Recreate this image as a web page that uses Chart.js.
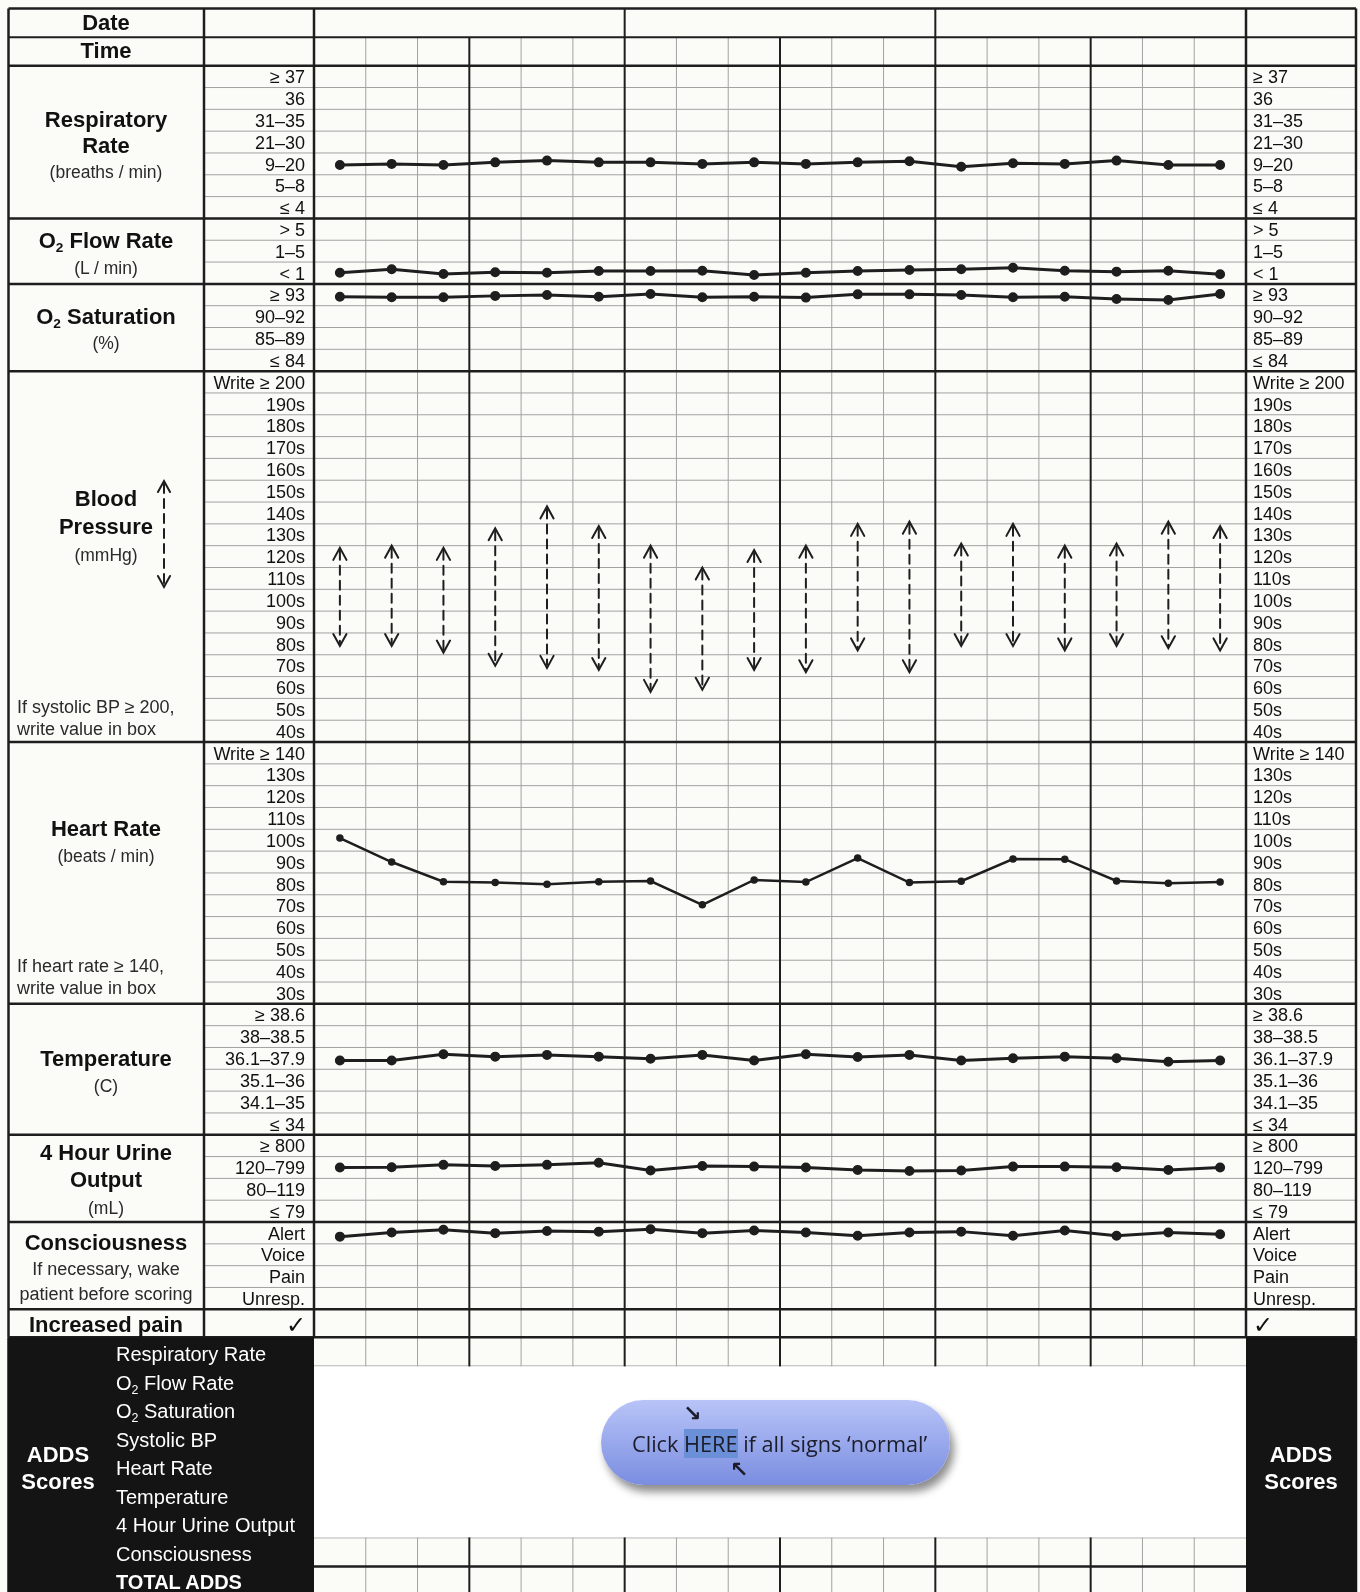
<!DOCTYPE html>
<html>
<head>
<meta charset="utf-8">
<title>ADDS observation chart</title>
<script src="https://cdn.jsdelivr.net/npm/chart.js@4.4.1/dist/chart.umd.min.js"></script>
<style>
html, body { margin: 0; padding: 0; background: #fbfbf8; }
body { width: 1360px; height: 1592px; position: relative; overflow: hidden;
       font-family: 'Liberation Sans', Arial, Helvetica, sans-serif; color: #111; }
#chart { position: absolute; left: 0; top: 0; }
.t { position: absolute; white-space: nowrap; transform: translate(-50%, -50%); line-height: 1; }
.l { transform: translate(0, -50%); }
.r { transform: translate(-100%, -50%); }
.b { font-weight: bold; font-size: 22px; }
.s { font-size: 17.5px; color: #2a2a2a; }
.n { font-size: 18px; color: #2a2a2a; }
.w { color: #fff; font-size: 20px; }
.tick { font-size: 24px; font-family: 'DejaVu Sans', sans-serif; }
sub { font-size: 62%; vertical-align: baseline; position: relative; top: 0.3em; }
.pill { position: absolute; left: 601px; top: 1400px; width: 349px; height: 85px; border-radius: 43px;
        background: linear-gradient(#b8c4f8, #7a8de0); box-shadow: 4px 7px 9px rgba(0,0,0,0.45); }
.cta { position: absolute; left: 632px; top: 1444px; transform: translate(0, -50%); white-space: nowrap;
       font-family: 'Open Sans', 'Noto Sans', sans-serif; font-size: 21.7px; color: #1c1c2a; line-height: 1.2; }
.here { background: #6b90d8; }
.arr { position: absolute; font-family: 'DejaVu Sans', sans-serif; font-size: 22px; font-weight: bold; color: #1c1c2a; line-height: 1; }
</style>
</head>
<body>
<canvas id="chart" width="1360" height="1592"></canvas>

<!-- left column -->
<div class="t b" style="left:106px;top:23px">Date</div>
<div class="t b" style="left:106px;top:51px">Time</div>
<div class="t b" style="left:106px;top:120px">Respiratory</div>
<div class="t b" style="left:106px;top:146px">Rate</div>
<div class="t s" style="left:106px;top:173px">(breaths / min)</div>
<div class="t b" style="left:106px;top:241px">O<sub>2</sub> Flow Rate</div>
<div class="t s" style="left:106px;top:269px">(L / min)</div>
<div class="t b" style="left:106px;top:317px">O<sub>2</sub> Saturation</div>
<div class="t s" style="left:106px;top:344px">(%)</div>
<div class="t b" style="left:106px;top:499px">Blood</div>
<div class="t b" style="left:106px;top:527px">Pressure</div>
<div class="t s" style="left:106px;top:556px">(mmHg)</div>
<div class="t l n" style="left:17px;top:707px">If systolic BP ≥ 200,</div>
<div class="t l n" style="left:17px;top:729px">write value in box</div>
<div class="t b" style="left:106px;top:829px">Heart Rate</div>
<div class="t s" style="left:106px;top:857px">(beats / min)</div>
<div class="t l n" style="left:17px;top:966px">If heart rate ≥ 140,</div>
<div class="t l n" style="left:17px;top:988px">write value in box</div>
<div class="t b" style="left:106px;top:1059px">Temperature</div>
<div class="t s" style="left:106px;top:1087px">(C)</div>
<div class="t b" style="left:106px;top:1153px">4 Hour Urine</div>
<div class="t b" style="left:106px;top:1180px">Output</div>
<div class="t s" style="left:106px;top:1209px">(mL)</div>
<div class="t b" style="left:106px;top:1243px">Consciousness</div>
<div class="t n" style="left:106px;top:1269px">If necessary, wake</div>
<div class="t n" style="left:106px;top:1294px">patient before scoring</div>
<div class="t b" style="left:106px;top:1325px">Increased pain</div>
<div class="t r tick" style="left:306px;top:1325px">✓</div>
<div class="t l tick" style="left:1253px;top:1325px">✓</div>

<!-- ADDS score block -->
<div class="t b" style="left:58px;top:1455px;color:#fff">ADDS</div>
<div class="t b" style="left:58px;top:1482px;color:#fff">Scores</div>
<div class="t l w" style="left:116px;top:1354px">Respiratory Rate</div>
<div class="t l w" style="left:116px;top:1383px">O<sub>2</sub> Flow Rate</div>
<div class="t l w" style="left:116px;top:1411px">O<sub>2</sub> Saturation</div>
<div class="t l w" style="left:116px;top:1440px">Systolic BP</div>
<div class="t l w" style="left:116px;top:1468px">Heart Rate</div>
<div class="t l w" style="left:116px;top:1497px">Temperature</div>
<div class="t l w" style="left:116px;top:1525px">4 Hour Urine Output</div>
<div class="t l w" style="left:116px;top:1554px">Consciousness</div>
<div class="t l w" style="left:116px;top:1582px;font-weight:bold">TOTAL ADDS</div>
<div class="t b" style="left:1301px;top:1455px;color:#fff">ADDS</div>
<div class="t b" style="left:1301px;top:1482px;color:#fff">Scores</div>

<div class="pill"></div>
<div class="cta">Click <span class="here">HERE</span> if all signs ‘normal’</div>
<div class="arr" style="left:683px;top:1403px">↘</div>
<div class="arr" style="left:730px;top:1459px">↖</div>

<script>
// row labels, top to bottom
const respLabels = ['≥ 37', '36', '31–35', '21–30', '9–20', '5–8', '≤ 4'];
const o2FlowLabels = ['> 5', '1–5', '< 1'];
const o2SatLabels = ['≥ 93', '90–92', '85–89', '≤ 84'];
const bpLabels = ['Write ≥ 200', '190s', '180s', '170s', '160s', '150s', '140s', '130s', '120s',
                  '110s', '100s', '90s', '80s', '70s', '60s', '50s', '40s'];
const hrLabels = ['Write ≥ 140', '130s', '120s', '110s', '100s', '90s', '80s', '70s', '60s', '50s', '40s', '30s'];
const tempLabels = ['≥ 38.6', '38–38.5', '36.1–37.9', '35.1–36', '34.1–35', '≤ 34'];
const urineLabels = ['≥ 800', '120–799', '80–119', '≤ 79'];
const conscLabels = ['Alert', 'Voice', 'Pain', 'Unresp.'];

// plotted marks for the 18 observations, as position inside each band
// (0 = top edge of the band, 1 row = 1.0)
const respRate = [4.55, 4.5, 4.55, 4.43, 4.35, 4.43, 4.43, 4.5, 4.43, 4.5, 4.43, 4.38, 4.63, 4.47, 4.5, 4.35, 4.55, 4.55];
const o2Flow = [2.49, 2.33, 2.55, 2.47, 2.49, 2.41, 2.41, 2.4, 2.59, 2.49, 2.41, 2.36, 2.33, 2.26, 2.4, 2.44, 2.4, 2.56];
const o2Sat = [0.59, 0.61, 0.61, 0.55, 0.51, 0.59, 0.46, 0.61, 0.59, 0.63, 0.48, 0.48, 0.51, 0.61, 0.59, 0.69, 0.74, 0.46];
const temperature = [2.6, 2.6, 2.31, 2.42, 2.34, 2.42, 2.52, 2.34, 2.6, 2.31, 2.44, 2.34, 2.6, 2.49, 2.42, 2.49, 2.65, 2.6];
const urineOutput = [1.5, 1.49, 1.38, 1.43, 1.38, 1.28, 1.64, 1.43, 1.46, 1.5, 1.61, 1.66, 1.64, 1.46, 1.46, 1.49, 1.61, 1.5];
const consciousness = [0.67, 0.48, 0.35, 0.51, 0.41, 0.44, 0.33, 0.51, 0.39, 0.48, 0.63, 0.48, 0.44, 0.63, 0.39, 0.63, 0.48, 0.56];
// mmHg and beats / min
const systolic = [129, 130, 129, 138, 148, 139, 130, 120, 128, 130, 140, 141, 131, 140, 130, 131, 141, 139];
const diastolic = [84, 84, 81, 75, 74, 73, 63, 64, 73, 72, 82, 72, 84, 84, 82, 84, 83, 82];
const heartRate = [106, 95, 86, 85.6, 84.8, 86, 86.3, 75.4, 86.8, 85.8, 96.8, 85.6, 86.2, 96.4, 96.3, 86.3, 85.3, 85.9];

const groups = [respLabels, o2FlowLabels, o2SatLabels, bpLabels, hrLabels, tempLabels, urineLabels, conscLabels];
const starts = [];
let total = 0;
groups.forEach(g => { starts.push(total); total += g.length; });
const rowLabels = groups.flat();
const [sResp, sFlow, sSat, sBp, sHr, sTemp, sUrine, sCons] = starts;

const band = (vals, start) => vals.map((v, i) => ({x: i + 0.5, y: start + v}));
const bpRow = v => sBp + (210 - v) / 10;
const hrRow = v => sHr + (150 - v) / 10;

const ink = '#1e1e1e';
const trace = (data, extra) => Object.assign({
    type: 'line', data, borderColor: ink, backgroundColor: ink,
    borderWidth: 3, pointRadius: 3.5, pointHoverRadius: 3.5, tension: 0
}, extra || {});

function dashedArrow(ctx, x, top, bottom, head) {
    ctx.save();
    ctx.strokeStyle = ink;
    ctx.lineWidth = 2;
    ctx.lineCap = 'round';
    ctx.setLineDash([9, 6]);
    ctx.beginPath();
    ctx.moveTo(x, top + 3);
    ctx.lineTo(x, bottom - 3);
    ctx.stroke();
    ctx.setLineDash([]);
    ctx.beginPath();
    ctx.moveTo(x - head * 0.55, top + head);
    ctx.lineTo(x, top);
    ctx.lineTo(x + head * 0.55, top + head);
    ctx.moveTo(x - head * 0.55, bottom - head);
    ctx.lineTo(x, bottom);
    ctx.lineTo(x + head * 0.55, bottom - head);
    ctx.stroke();
    ctx.restore();
}

// the printed form: rows, columns, frame and ADDS block
const formPlugin = {
    id: 'form',
    beforeDraw(chart) {
        const {ctx, chartArea: a, scales: {x, y}} = chart;
        const L = 8.5, C1 = 204, R = 1356, T = 8.5, H1 = 37.3, BOT = 1592;
        const P = a.bottom + 28;        // bottom of "Increased pain"
        const addsRow = 28.65;
        const line = (x1, y1, x2, y2, w, c) => {
            ctx.beginPath();
            ctx.lineWidth = w;
            ctx.strokeStyle = c;
            ctx.moveTo(x1, y1);
            ctx.lineTo(x2, y2);
            ctx.stroke();
        };
        ctx.save();
        ctx.fillStyle = '#fbfbf8';
        ctx.fillRect(0, 0, chart.width, chart.height);

        // row lines
        for (let r = 1; r < total; r++) {
            if (starts.includes(r)) continue;
            const py = y.getPixelForValue(r);
            line(C1, py, R, py, 1, '#a2a2a2');
        }
        // ADDS rows inside the grid
        line(a.left, P + addsRow, a.right, P + addsRow, 1, '#a2a2a2');
        line(a.left, P + 7 * addsRow, a.right, P + 7 * addsRow, 1, '#a2a2a2');

        // columns
        for (let i = 1; i < 18; i++) {
            const px = x.getPixelForValue(i);
            if (i % 3) line(px, H1, px, BOT, 1, '#a2a2a2');
        }
        for (let i = 3; i < 18; i += 3) {
            const px = x.getPixelForValue(i);
            line(px, i % 6 ? H1 : T, px, BOT, 2, ink);
        }
        line(a.left, P + 8 * addsRow, a.right, P + 8 * addsRow, 2.5, ink);

        // blank area of the score block
        ctx.fillStyle = '#ffffff';
        ctx.fillRect(a.left, P + addsRow + 0.5, a.right - a.left, 6 * addsRow - 1);

        // section borders
        line(L, T, R, T, 2.5, ink);
        line(L, H1, R, H1, 2, ink);
        starts.forEach(s => {
            const py = y.getPixelForValue(s);
            line(L, py, R, py, 2.5, ink);
        });
        line(L, a.bottom, R, a.bottom, 2.5, ink);
        line(L, P, R, P, 2.5, ink);
        [L, C1, a.left, a.right, R].forEach(px => line(px, T, px, P, 2.5, ink));

        // black score panels
        ctx.fillStyle = '#141414';
        ctx.fillRect(L - 1.25, P, a.left - L + 1.25, BOT - P);
        ctx.fillRect(a.right, P, R - a.right + 1.25, BOT - P);
        ctx.restore();

        // arrow next to "Blood Pressure"
        dashedArrow(ctx, 164, 481, 587, 11);
    },
    afterDatasetsDraw(chart) {
        const meta = chart.getDatasetMeta(chart.data.datasets.length - 1);
        meta.data.forEach(el => {
            const top = Math.min(el.y, el.base);
            const bottom = Math.max(el.y, el.base);
            dashedArrow(chart.ctx, el.x, top, bottom, 12);
        });
    }
};

const rowAxis = (position, padding) => ({
    type: 'linear', position, min: 0, max: total, reverse: true,
    afterBuildTicks: s => { s.ticks = rowLabels.map((_, i) => ({value: i + 0.58})); },
    afterFit: s => { s.width = 110; },
    ticks: {
        autoSkip: false, padding, color: '#111',
        font: {family: "'Liberation Sans', Arial, sans-serif", size: 18},
        callback: (v, i) => rowLabels[i]
    },
    grid: {display: false, drawTicks: false},
    border: {display: false}
});

new Chart(document.getElementById('chart'), {
    type: 'line',
    data: {
        datasets: [
            trace(band(respRate, sResp)),
            trace(band(o2Flow, sFlow)),
            trace(band(o2Sat, sSat)),
            trace(heartRate.map((v, i) => ({x: i + 0.5, y: hrRow(v)})), {borderWidth: 2.5, pointRadius: 2.5}),
            trace(band(temperature, sTemp)),
            trace(band(urineOutput, sUrine)),
            trace(band(consciousness, sCons)),
            {
                type: 'bar',
                data: systolic.map((s, i) => ({x: i + 0.5, y: [bpRow(s), bpRow(diastolic[i])]})),
                backgroundColor: 'rgba(0,0,0,0)',
                borderWidth: 0,
                barThickness: 2
            }
        ]
    },
    options: {
        responsive: false,
        animation: false,
        devicePixelRatio: 1,
        layout: {padding: {left: 204, right: 4, top: 65.7, bottom: 282.7}},
        plugins: {legend: {display: false}, tooltip: {enabled: false}},
        scales: {
            x: {type: 'linear', min: 0, max: 18, offset: false, display: false},
            y: rowAxis('left', 9),
            y2: rowAxis('right', 7)
        }
    },
    plugins: [formPlugin]
});
</script>
</body>
</html>
